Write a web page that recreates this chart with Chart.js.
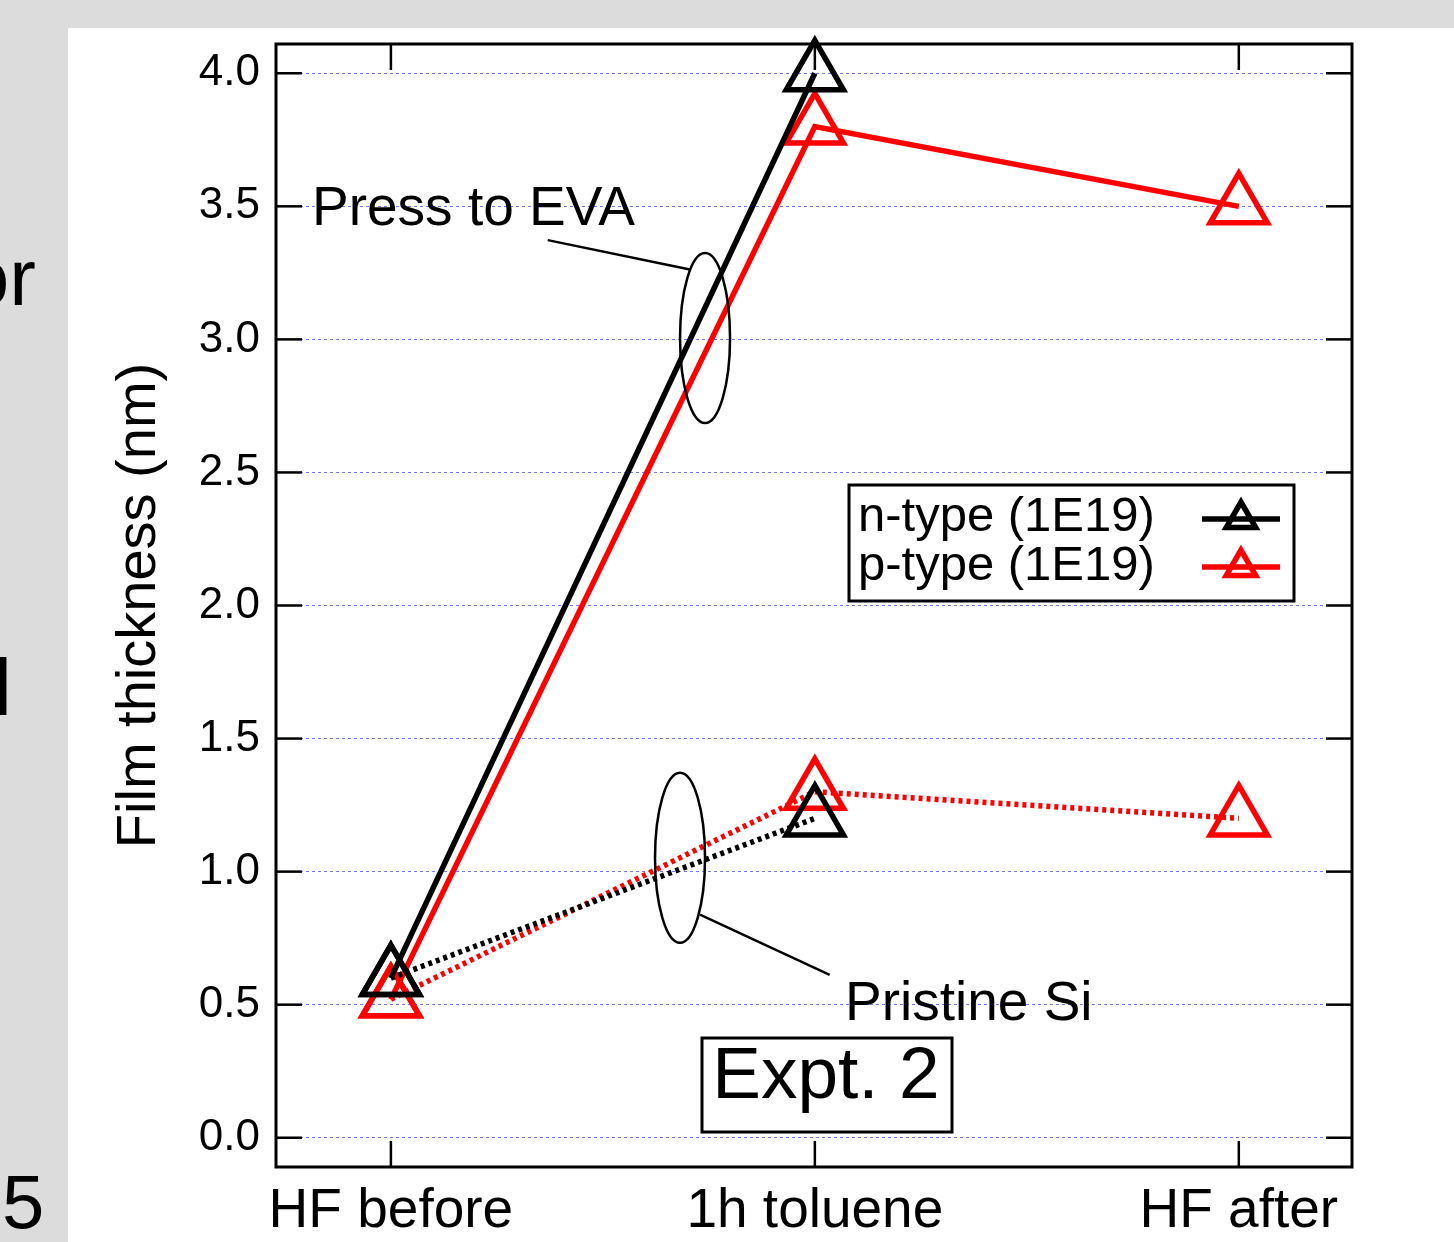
<!DOCTYPE html>
<html><head><meta charset="utf-8">
<script src="https://cdn.jsdelivr.net/npm/chart.js@4.4.0/dist/chart.umd.min.js"></script>
<style>html,body{margin:0;padding:0;background:#fff;overflow:hidden}canvas{display:block}</style>
</head><body>
<canvas id="c" width="1454" height="1242"></canvas>
<script>
const categories = ['HF before', '1h toluene', 'HF after'];
const yTickValues = [0, 0.5, 1, 1.5, 2, 2.5, 3, 3.5, 4];
const yTickLabels = ['0.0', '0.5', '1.0', '1.5', '2.0', '2.5', '3.0', '3.5', '4.0'];
const nTypeEVA = [0.6, 4.0, null];
const pTypeEVA = [0.52, 3.8, 3.5];
const nTypePristine = [0.6, 1.2, null];
const pTypePristine = [0.52, 1.3, 1.2];
const legendLabels = ['n-type (1E19)', 'p-type (1E19)'];
const seriesColors = ['#000000', '#ff0000'];
const yTitle = 'Film thickness (nm)';
const annotationTexts = ['Press to EVA', 'Pristine Si', 'Expt. 2'];

const FONT = '"Liberation Sans", Arial, Helvetica, sans-serif';
const toXY = arr => arr.map((v, i) => ({x: i, y: v})).filter(p => p.y !== null);

function ds(label, arr, color, dotted) {
  return {
    label, data: toXY(arr), borderColor: color, backgroundColor: 'rgba(0,0,0,0)',
    borderWidth: 5.5, borderDash: dotted ? [4, 4] : [],
    pointStyle: 'triangle', pointRadius: 33, pointHoverRadius: 33,
    pointBorderWidth: 5.5, pointBorderColor: color, pointBackgroundColor: 'rgba(0,0,0,0)',
    showLine: true, tension: 0, clip: false, fill: false
  };
}

function line(ctx, x1, y1, x2, y2) { ctx.beginPath(); ctx.moveTo(x1, y1); ctx.lineTo(x2, y2); ctx.stroke(); }

const deco = {
  id: 'deco',
  beforeDraw(chart) {
    const ctx = chart.ctx;
    ctx.save();
    ctx.fillStyle = '#dcdcdc'; ctx.fillRect(0, 0, 1454, 1242);
    ctx.fillStyle = '#ffffff'; ctx.fillRect(68, 28, 1454 - 68, 1242 - 28);
    ctx.beginPath(); ctx.rect(0, 0, 68, 1242); ctx.clip();
    ctx.fillStyle = '#000';
    ctx.textBaseline = 'alphabetic';
    ctx.font = '80px ' + FONT;
    ctx.textAlign = 'right'; ctx.fillText('or', 36, 305);
    ctx.textAlign = 'left'; ctx.fillText('l', -6, 715);
    ctx.font = '76px ' + FONT; ctx.fillText('5', 2, 1228);
    ctx.restore();
  },
  beforeDatasetsDraw(chart) {
    const ctx = chart.ctx, a = chart.chartArea, xs = chart.scales.x, ys = chart.scales.y;
    ctx.save();
    ctx.strokeStyle = '#000';
    ctx.lineWidth = 2.5;
    yTickValues.forEach(v => {
      const y = ys.getPixelForValue(v);
      line(ctx, a.left, y, a.left + 26, y);
      line(ctx, a.right, y, a.right - 26, y);
    });
    categories.forEach((c, i) => {
      const x = xs.getPixelForValue(i);
      line(ctx, x, a.top, x, a.top + 26);
      line(ctx, x, a.bottom, x, a.bottom - 26);
    });
    ctx.lineWidth = 3;
    ctx.strokeRect(a.left, a.top, a.right - a.left, a.bottom - a.top);
    ctx.restore();
  },
  afterDatasetsDraw(chart) {
    const ctx = chart.ctx, xs = chart.scales.x, ys = chart.scales.y;
    const X = v => xs.getPixelForValue(v), Y = v => ys.getPixelForValue(v);
    ctx.save();
    ctx.fillStyle = '#000'; ctx.strokeStyle = '#000';
    // Press to EVA
    ctx.font = '55px ' + FONT; ctx.textAlign = 'left'; ctx.textBaseline = 'alphabetic';
    ctx.fillText(annotationTexts[0], X(-0.186), Y(3.43));
    ctx.lineWidth = 2.5;
    line(ctx, X(0.370), Y(3.373), X(0.708), Y(3.262));
    ctx.beginPath(); ctx.ellipse(X(0.741), Y(3.005), 25, 85, 0, 0, Math.PI * 2); ctx.stroke();
    // Pristine Si
    ctx.fillText(annotationTexts[1], X(1.071), Y(0.443));
    line(ctx, X(0.729), Y(0.838), X(1.035), Y(0.612));
    ctx.beginPath(); ctx.ellipse(X(0.682), Y(1.052), 25, 85, 0, 0, Math.PI * 2); ctx.stroke();
    // Expt. 2 box
    ctx.font = '73px ' + FONT; ctx.textAlign = 'center';
    const cx = X(1.026), by = Y(0.15);
    ctx.fillStyle = '#fff'; ctx.fillRect(702, 1038, 250, 94);
    ctx.fillStyle = '#000';
    ctx.fillText(annotationTexts[2], cx, by);
    ctx.lineWidth = 3; ctx.strokeRect(702, 1038, 250, 94);
    // Legend
    ctx.fillStyle = '#fff'; ctx.fillRect(849, 485, 445, 116);
    ctx.lineWidth = 3; ctx.strokeStyle = '#000'; ctx.strokeRect(849, 485, 445, 116);
    ctx.font = '49px ' + FONT; ctx.textAlign = 'left'; ctx.fillStyle = '#000';
    const rows = [[531, 519], [580, 567]];
    legendLabels.forEach((lab, i) => {
      ctx.fillStyle = '#000';
      ctx.fillText(lab, 858, rows[i][0]);
      const ly = rows[i][1];
      ctx.strokeStyle = seriesColors[i]; ctx.lineWidth = 5.5;
      line(ctx, 1202, ly, 1280, ly);
      const r = 17;
      ctx.beginPath();
      ctx.moveTo(1241, ly - r);
      ctx.lineTo(1241 + r * Math.sin(Math.PI * 2 / 3), ly + r / 2);
      ctx.lineTo(1241 - r * Math.sin(Math.PI * 2 / 3), ly + r / 2);
      ctx.closePath(); ctx.stroke();
    });
    ctx.restore();
  }
};

new Chart(document.getElementById('c'), {
  type: 'line',
  data: {
    datasets: [
      ds(legendLabels[0] + ' EVA', nTypeEVA, seriesColors[0], false),
      ds(legendLabels[0] + ' pristine', nTypePristine, seriesColors[0], true),
      ds(legendLabels[1] + ' EVA', pTypeEVA, seriesColors[1], false),
      ds(legendLabels[1] + ' pristine', pTypePristine, seriesColors[1], true)
    ]
  },
  options: {
    responsive: false, animation: false, devicePixelRatio: 1,
    layout: {padding: {left: 0, top: 44, right: 102, bottom: 0}},
    plugins: {legend: {display: false}, tooltip: {enabled: false}},
    events: [],
    scales: {
      x: {
        type: 'linear', min: -0.271, max: 2.267,
        afterBuildTicks: s => { s.ticks = categories.map((c, i) => ({value: i})); },
        afterFit: s => { s.height = 75; },
        grid: {display: false, drawTicks: false},
        border: {display: false},
        ticks: {
          autoSkip: false, maxRotation: 0, minRotation: 0, padding: 12, color: '#000',
          font: {family: FONT, size: 55},
          callback: v => categories[v]
        }
      },
      y: {
        type: 'linear', min: -0.11, max: 4.11,
        afterBuildTicks: s => { s.ticks = yTickValues.map(v => ({value: v})); },
        afterFit: s => { s.width = 276; },
        grid: {color: '#7777ff', lineWidth: 1, drawTicks: false},
        border: {display: false, dash: [3, 3]},
        ticks: {
          padding: 16, color: '#000', font: {family: FONT, size: 44},
          callback: v => yTickLabels[yTickValues.indexOf(v)]
        },
        title: {display: true, text: yTitle, color: '#000', font: {family: FONT, size: 56}, padding: {top: 106, bottom: 0}}
      }
    }
  },
  plugins: [deco]
});
</script>
</body></html>
